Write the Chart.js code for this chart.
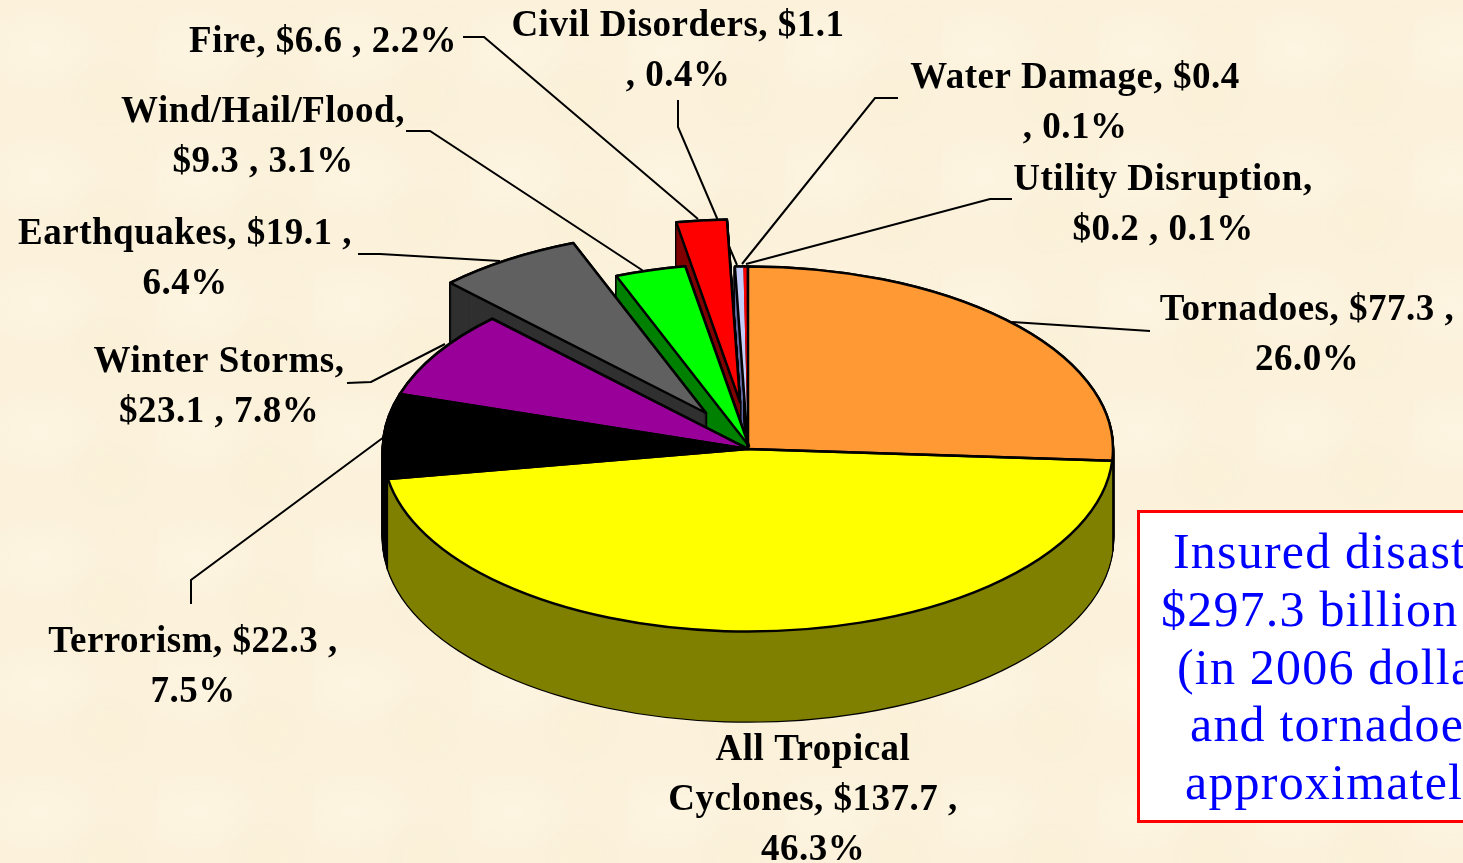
<!DOCTYPE html>
<html>
<head>
<meta charset="utf-8">
<style>
html,body{margin:0;padding:0;width:1463px;height:863px;overflow:hidden;background-color:#fcf2dc;
background-image:
radial-gradient(ellipse 60px 40px at 40px 50px,rgba(255,250,235,.35),transparent),
radial-gradient(ellipse 50px 45px at 110px 95px,rgba(247,236,206,.3),transparent),
radial-gradient(ellipse 45px 30px at 130px 25px,rgba(249,238,210,.25),transparent);
background-size:157px 127px;}
canvas{display:block}
</style>
<script src="https://cdn.jsdelivr.net/npm/chart.js@4/dist/chart.umd.min.js"></script>
</head>
<body>
<canvas id="c" width="1463" height="863"></canvas>
<script>
const categories=["Tornadoes","All Tropical Cyclones","Terrorism","Winter Storms","Earthquakes","Wind/Hail/Flood","Fire","Civil Disorders","Water Damage","Utility Disruption"];
const values=[77.3,137.7,22.3,23.1,19.1,9.3,6.6,1.1,0.4,0.2];
const topColors=["#ff9933","#ffff00","#000000","#990099","#606060","#00ff00","#ff0000","#c4ccf8","#ff0000","#ff0000"];
const sideColors=["#804d19","#808000","#000000","#4d004d","#303030","#008000","#800000","#6268a0","#800000","#800000"];
const explodeX=[0,0,0,0,-42,1,-8,0,0,0];
const explodeY=[0,0,0,0,-36,-3,-47,0,0,0];
const labelLines=[
["Tornadoes, $77.3 ,","26.0%"],
["All Tropical","Cyclones, $137.7 ,","46.3%"],
["Terrorism, $22.3 ,","7.5%"],
["Winter Storms,","$23.1 , 7.8%"],
["Earthquakes, $19.1 ,","6.4%"],
["Wind/Hail/Flood,","$9.3 , 3.1%"],
["Fire, $6.6 , 2.2%"],
["Civil Disorders, $1.1",", 0.4%"],
["Water Damage, $0.4",", 0.1%"],
["Utility Disruption,","$0.2 , 0.1%"]];
const labelX=[1307,813,193,219,185,263,323,678,1075,1163];
const labelY=[320,760,652,372,244,122,52,36,88,190];
const leaders=[
[[1012,322],[1150,331]],
[],
[[384,437],[191,580],[191,604]],
[[347,383],[371,382],[445,344]],
[[358,254],[380,254],[500,261]],
[[406,131],[430,131],[645,272]],
[[463,37],[484,37],[698,219]],
[[678,100],[678,127],[737,265]],
[[898,98],[875,98],[742,264]],
[[1012,199],[990,199],[746,264]]];
const boxLines=["Insured disasters","$297.3 billion","(in 2006 dollars)","and tornadoes","approximately"];
const boxLineX=[1173,1161,1177,1190,1185];
const boxLineY=[568,626,684,741,799];
const drawOrder=[7,8,9,6,5,4,0,3,2,1];
const tilt=0.5, depth=90;

function slicePath(ctx,arc,dy,mode){
  const cx=arc.x,cy=arc.y;
  ctx.save();
  ctx.translate(0,cy+dy);ctx.scale(1,tilt);ctx.translate(0,-cy);
  ctx.beginPath();
  if(mode==='rim'){
    ctx.arc(cx,cy,arc.outerRadius,arc.startAngle,arc.endAngle);
  }else if(mode==='open'){
    ctx.moveTo(cx,cy);
    ctx.arc(cx,cy,arc.outerRadius,arc.startAngle,arc.endAngle);
  }else{
    ctx.moveTo(cx,cy);
    ctx.arc(cx,cy,arc.outerRadius,arc.startAngle,arc.endAngle);
    ctx.closePath();
  }
  ctx.restore();
}
const pie3d={
  id:'pie3d',
  afterDatasetsUpdate(chart){
    chart.getDatasetMeta(0).data.forEach((a,i)=>{
      a.x=chart.chartArea.left+chart.chartArea.width/2+explodeX[i];
      a.y=chart.chartArea.top+chart.chartArea.height/2+explodeY[i]/tilt;
    });
  },
  beforeDatasetsDraw(chart){
    const ctx=chart.ctx,arcs=chart.getDatasetMeta(0).data;
    ctx.save();ctx.strokeStyle="#000";ctx.lineWidth=2;
    leaders.forEach(l=>{ if(!l.length)return;
      ctx.beginPath();l.forEach((p,i)=>i?ctx.lineTo(p[0],p[1]):ctx.moveTo(p[0],p[1]));ctx.stroke();});
    ctx.restore();
    const cy=chart.chartArea.top+chart.chartArea.height/2;
    drawOrder.forEach(i=>{
      const a=arcs[i];
      ctx.save();ctx.lineJoin='round';
      const geom={x:a.x,y:a.y,outerRadius:a.outerRadius,startAngle:a.startAngle,endAngle:a.endAngle};
      const yShift=-(a.y-cy)*(1-tilt);
      ctx.strokeStyle="#000";ctx.lineWidth=2.6;
      for(let d=0;d<=depth;d+=1){slicePath(ctx,geom,d+yShift);ctx.stroke();}
      ctx.fillStyle=sideColors[i];
      for(let d=0;d<=depth;d+=1){slicePath(ctx,geom,d+yShift);ctx.fill();}
      ctx.restore();
    });
    ctx.save();
    ctx.translate(0,cy);ctx.scale(1,tilt);ctx.translate(0,-cy);
  },
  afterDatasetsDraw(chart){
    const ctx=chart.ctx,arcs=chart.getDatasetMeta(0).data;
    ctx.restore();
    const cy=chart.chartArea.top+chart.chartArea.height/2;
    ctx.save();ctx.strokeStyle="#000";ctx.lineWidth=2.5;ctx.lineJoin='round';
    arcs.forEach((a,i)=>{
      const yShift=-(a.y-cy)*(1-tilt);
      const mode=i>=8?'rim':(i===7?'open':'full');
      slicePath(ctx,{x:a.x,y:a.y,outerRadius:a.outerRadius,startAngle:a.startAngle,endAngle:a.endAngle},yShift,mode);
      ctx.stroke();
    });
    ctx.restore();
    ctx.save();
    ctx.fillStyle="#000";ctx.font="bold 37px 'Liberation Serif'";ctx.letterSpacing="0.5px";ctx.textAlign="center";ctx.textBaseline="alphabetic";
    labelLines.forEach((ls,i)=>ls.forEach((t,j)=>ctx.fillText(t,labelX[i],labelY[i]+j*50)));
    ctx.fillStyle="#fff";ctx.fillRect(1138,511,340,310);
    ctx.strokeStyle="#ff0000";ctx.lineWidth=3;ctx.strokeRect(1138.5,511.5,340,310);
    ctx.fillStyle="#0000ff";ctx.font="50px 'Liberation Serif'";ctx.letterSpacing="1.2px";ctx.textAlign="left";
    boxLines.forEach((t,i)=>ctx.fillText(t,boxLineX[i],boxLineY[i]));
    ctx.restore();
  }
};
new Chart(document.getElementById('c'),{
  type:'pie',
  data:{labels:categories,datasets:[{data:values,backgroundColor:topColors,borderWidth:0,clip:false}]},
  options:{responsive:false,animation:false,radius:365,rotation:0,
    layout:{padding:{left:33,top:35,right:0,bottom:0}},
    plugins:{legend:{display:false},tooltip:{enabled:false}},events:[]},
  plugins:[pie3d]
});
</script>
</body>
</html>
